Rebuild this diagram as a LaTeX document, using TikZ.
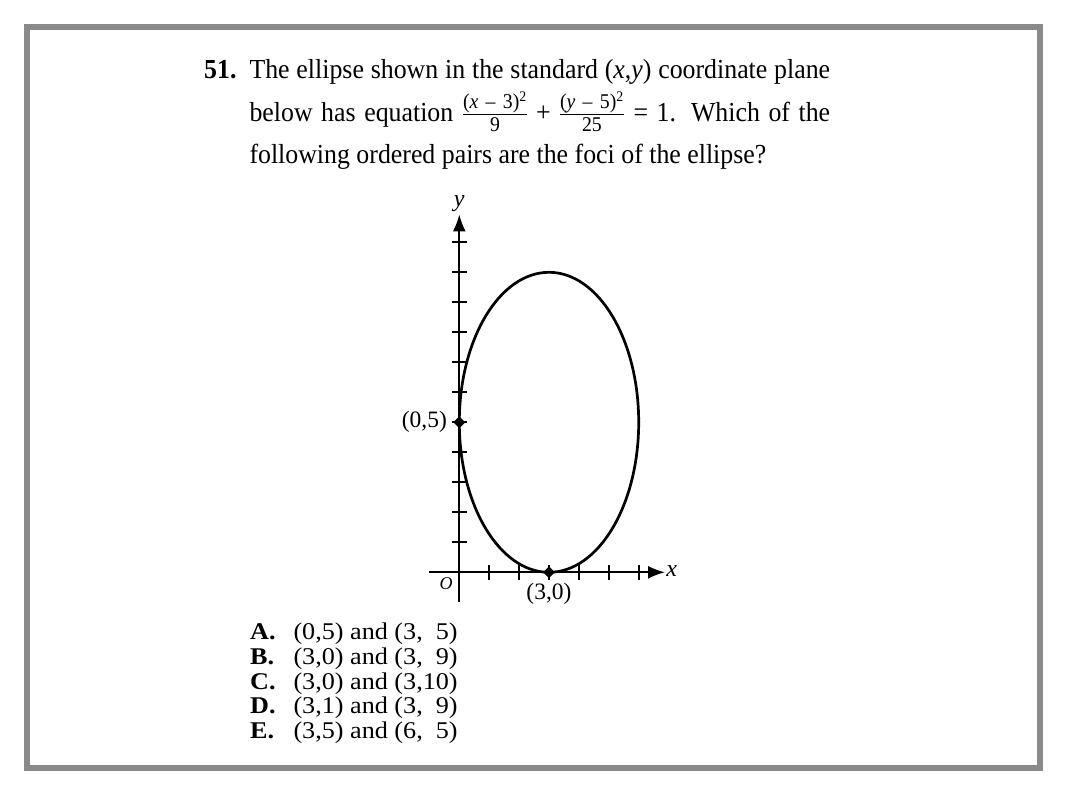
\RequirePackage{fix-cm}
\documentclass[tikz,border=0pt]{standalone}
\usepackage{amsmath}
\usepackage{fontspec}
\setmainfont{Liberation Serif}
\newfontfamily\qfont{Liberation Serif}[FakeStretch=0.94]
\newfontfamily\afont{Liberation Serif}[FakeStretch=1.09]
\usetikzlibrary{arrows.meta,positioning,shapes.geometric}
\definecolor{framegray}{RGB}{138,138,138}
\newcommand\fracpart[1]{\text{\fontsize{21}{23}\selectfont #1}}

\begin{document}
\begin{tikzpicture}[x=1pt,y=-1pt,
		txt/.style={anchor=base west,inner sep=0pt,font=\qfont\fontsize{27.5}{33}\selectfont},
		ans/.style={anchor=base west,inner sep=0pt,font=\afont\fontsize{24}{29}\selectfont},
		lbl/.style={inner sep=0pt,font=\fontsize{23.5}{28}\selectfont},
		pt/.style={diamond,fill=black,inner sep=0pt,minimum size=12pt},
		axis/.style={line width=1.9pt,-{Latex[length=17pt,width=13pt]}},
		tick/.style={line width=1.7pt}]
		\useasboundingbox (0,0) rectangle (1066,800);
		\draw[framegray,line width=5.5pt] (27,27) rectangle (1039.8,767.8);
		\node[txt] (num) at (204,78.3) {\bfseries 51.};
		\node[txt] (q1) at (249.3,78.3) {\makebox[580.7pt][s]{The ellipse shown in the standard (\textit{x},\textit{y}) coordinate plane}};
		\node[txt] (q2) at (249.3,121.7) {\makebox[580.7pt][s]{below has equation $\frac{\fracpart{(\textit{x}\hspace{0.35em}–\hspace{0.35em}3)\textsuperscript{2}}}{\fracpart{9}}
			\mathbin{\text{+}} \frac{\fracpart{(\textit{y}\hspace{0.35em}–\hspace{0.35em}5)\textsuperscript{2}}}{\fracpart{25}}$ = 1. Which of the}};
		\node[txt] (q3) at (249.3,163.3) {following ordered pairs are the foci of the ellipse?};
		\begin{scope}[shift={(459.3,572.3)},x=29.9pt,y=30pt]
		\draw[axis] (-1,0) -- (6.88,0);
		\draw[axis] (0,-1) -- (0,11.93);
		\foreach \i in {1,...,6} \draw[tick] (\i,-0.25) -- (\i,0.25);
		\foreach \i in {1,...,11} \draw[tick] (-0.25,\i) -- (0.25,\i);
		\draw[line width=2.7pt] (3,5) ellipse [x radius=3, y radius=5];
		\node[pt] (p05) at (0,5) {};
		\node[pt] (p30) at (3,0) {};
		\node[lbl,left=6pt of p05] (l05) {(0,5)};
		\node[lbl,below=4pt of p30] (l30) {(3,0)};
		\node[inner sep=0pt,font=\itshape\fontsize{18}{20}\selectfont] (o) at (-0.44,-0.37) {O};
		\node[inner sep=0pt,font=\itshape\fontsize{24}{28}\selectfont] (xl) at (7.1,0.05) {x};
		\node[inner sep=0pt,font=\itshape\fontsize{24}{28}\selectfont] (yl) at (0,12.3) {y};
		\end{scope}
		\node[ans] (la) at (250,639) {\bfseries A.};
		\node[ans] (ca) at (293.3,639) {(0,5) and (3,\phantom{1}5)};
		\node[ans] (lb) at (250,664.3) {\bfseries B.};
		\node[ans] (cb) at (293.3,664.3) {(3,0) and (3,\phantom{1}9)};
		\node[ans] (lc) at (250,689) {\bfseries C.};
		\node[ans] (cc) at (293.3,689) {(3,0) and (3,10)};
		\node[ans] (ld) at (250,713.7) {\bfseries D.};
		\node[ans] (cd) at (293.3,713.7) {(3,1) and (3,\phantom{1}9)};
		\node[ans] (le) at (250,738.3) {\bfseries E.};
		\node[ans] (ce) at (293.3,738.3) {(3,5) and (6,\phantom{1}5)};
	\end{tikzpicture}
\end{document}
